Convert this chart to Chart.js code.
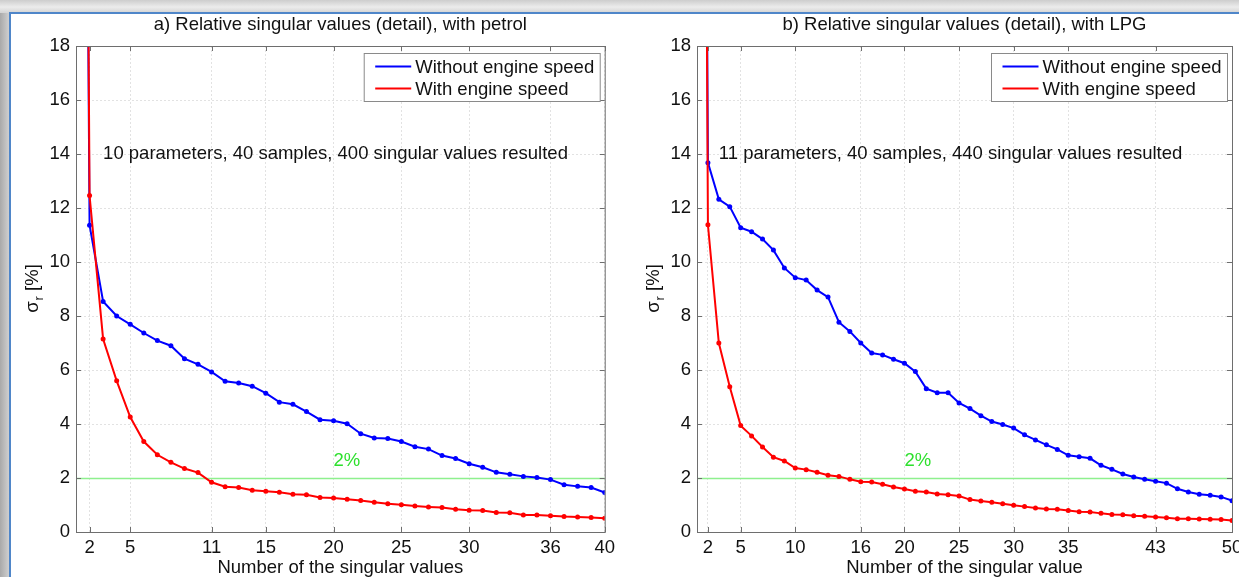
<!DOCTYPE html>
<html>
<head>
<meta charset="utf-8">
<script src="https://cdn.jsdelivr.net/npm/chart.js@4.4.0/dist/chart.umd.min.js"></script>
<style>
  html, body { margin: 0; padding: 0; }
  body {
    width: 1239px; height: 577px; overflow: hidden; position: relative;
    background: linear-gradient(to right, #a9a9a9, #cfcfcf 9px, #d6d6d6);
  }
  #topbar { position: absolute; left: 0; top: 0; width: 1239px; height: 13px;
    background: linear-gradient(#cdcdcd, #ececec 7px, #d3d3d3); }
  #frame { position: absolute; left: 9px; top: 12px; width: 1240px; height: 580px;
    background: #fff; border-top: 2px solid #4f86c9; border-left: 2px solid #4f86c9; }
  canvas { position: absolute; top: 0; }
  #chartA { left: 0; }
  #chartB { left: 620px; }
</style>
</head>
<body>
<div id="topbar"></div>
<div id="frame"></div>
<canvas id="chartA" width="620" height="577"></canvas>
<canvas id="chartB" width="630" height="577"></canvas>
<script>
// a) petrol, singular value number 1..40 (first value is off the scale)
var withoutSpeedA = [85, 11.36, 8.54, 8.0, 7.69, 7.37, 7.09, 6.9, 6.42, 6.21, 5.93, 5.58, 5.52, 5.4, 5.14,
  4.81, 4.73, 4.46, 4.16, 4.12, 4.01, 3.64, 3.48, 3.46, 3.35, 3.16, 3.07, 2.83, 2.72, 2.53,
  2.40, 2.21, 2.14, 2.06, 2.02, 1.94, 1.75, 1.69, 1.65, 1.46];
var withSpeedA = [90, 12.46, 7.15, 5.6, 4.26, 3.35, 2.86, 2.58, 2.35, 2.20, 1.84, 1.68, 1.65, 1.55, 1.51,
  1.47, 1.40, 1.38, 1.28, 1.26, 1.21, 1.17, 1.10, 1.05, 1.01, 0.96, 0.93, 0.91, 0.84, 0.81,
  0.80, 0.72, 0.71, 0.63, 0.63, 0.60, 0.57, 0.56, 0.54, 0.51];

// b) LPG, singular value number 1..50
var withoutSpeedB = [85, 13.68, 12.32, 12.05, 11.27, 11.12, 10.85, 10.44, 9.78, 9.42, 9.33, 8.96, 8.70,
  7.77, 7.43, 7.0, 6.63, 6.56, 6.40, 6.25, 5.94, 5.31, 5.16, 5.16, 4.78, 4.57, 4.31, 4.09,
  3.98, 3.85, 3.60, 3.41, 3.23, 3.06, 2.84, 2.79, 2.73, 2.47, 2.32, 2.15, 2.04, 1.95, 1.88,
  1.81, 1.60, 1.48, 1.40, 1.36, 1.30, 1.16];
var withSpeedB = [90, 11.38, 7.0, 5.38, 3.94, 3.56, 3.15, 2.77, 2.63, 2.37, 2.31, 2.21, 2.10, 2.06,
  1.95, 1.86, 1.85, 1.77, 1.67, 1.59, 1.51, 1.48, 1.41, 1.38, 1.33, 1.20, 1.15, 1.10, 1.05,
  0.99, 0.94, 0.89, 0.85, 0.84, 0.80, 0.75, 0.74, 0.69, 0.65, 0.64, 0.60, 0.58, 0.56, 0.53,
  0.49, 0.49, 0.48, 0.47, 0.46, 0.43];

var xTicksA = [2, 5, 11, 15, 20, 25, 30, 36, 40];
var xTicksB = [2, 5, 10, 16, 20, 25, 30, 35, 43, 50];
var yTicks = [0, 2, 4, 6, 8, 10, 12, 14, 16, 18];
var seriesNames = ['Without engine speed', 'With engine speed'];
var limit = 2;

var FONT = '"Liberation Sans", Arial, sans-serif';
var FS = 18.5;
Chart.defaults.font.family = FONT;
Chart.defaults.color = '#111';

function toPoints(arr) {
  return arr.map(function (v, i) { return { x: i + 1, y: v }; });
}

var decor = {
  id: 'decor',
  beforeDatasetsDraw: function (chart, args, o) {
    var ctx = chart.ctx, a = chart.chartArea, y = chart.scales.y;
    var py = Math.round(y.getPixelForValue(limit)) + 0.5;
    ctx.save();
    ctx.strokeStyle = '#8ef08e';
    ctx.lineWidth = 1.5;
    ctx.beginPath(); ctx.moveTo(a.left, py); ctx.lineTo(a.right, py); ctx.stroke();
    ctx.restore();
  },
  afterDatasetsDraw: function (chart, args, o) {
    var ctx = chart.ctx, a = chart.chartArea, x = chart.scales.x, y = chart.scales.y;
    ctx.save();
    // axes box with inward ticks
    ctx.strokeStyle = '#6e6e6e';
    ctx.lineWidth = 1;
    ctx.strokeRect(a.left + 0.5, a.top + 0.5, a.right - a.left, a.bottom - a.top);
    ctx.beginPath();
    o.xTicks.forEach(function (v) {
      var px = Math.round(x.getPixelForValue(v)) + 0.5;
      ctx.moveTo(px, a.bottom); ctx.lineTo(px, a.bottom - 5);
      ctx.moveTo(px, a.top); ctx.lineTo(px, a.top + 5);
    });
    yTicks.forEach(function (v) {
      var py = Math.round(y.getPixelForValue(v)) + 0.5;
      ctx.moveTo(a.left, py); ctx.lineTo(a.left + 5, py);
      ctx.moveTo(a.right, py); ctx.lineTo(a.right - 5, py);
    });
    ctx.stroke();

    // notes
    ctx.font = FS + 'px ' + FONT;
    ctx.textBaseline = 'middle';
    ctx.textAlign = 'left';
    ctx.fillStyle = '#111';
    ctx.fillText(o.note, x.getPixelForValue(3), y.getPixelForValue(14));
    ctx.fillStyle = '#2ee02e';
    ctx.fillText('2%', x.getPixelForValue(20), y.getPixelForValue(2.65));

    // legend box
    var ds = chart.data.datasets;
    var tw = 0;
    ds.forEach(function (d) { tw = Math.max(tw, ctx.measureText(d.label).width); });
    var bw = Math.round(tw + 57), bh = 48;
    var bx = a.right - 5 - bw + 0.5, by = a.top + 7 + 0.5;
    ctx.fillStyle = '#fff';
    ctx.fillRect(bx, by, bw, bh);
    ctx.strokeStyle = '#8a8a8a';
    ctx.strokeRect(bx, by, bw, bh);
    ds.forEach(function (d, i) {
      var ly = by + 13 + i * 22;
      ctx.strokeStyle = d.borderColor;
      ctx.lineWidth = 2;
      ctx.beginPath(); ctx.moveTo(bx + 11, ly); ctx.lineTo(bx + 47, ly); ctx.stroke();
      ctx.fillStyle = '#111';
      ctx.fillText(d.label, bx + 51, ly + 1);
    });
    ctx.restore();
  },
  afterDraw: function (chart, args, o) {
    var ctx = chart.ctx, a = chart.chartArea;
    var cx = (a.left + a.right) / 2;
    ctx.save();
    ctx.fillStyle = '#111';
    ctx.font = FS + 'px ' + FONT;
    ctx.textAlign = 'center';
    ctx.textBaseline = 'middle';
    ctx.fillText(o.title, cx, 25);
    ctx.fillText(o.xTitle, cx, 568);

    // y axis title: sigma_r [%]
    ctx.translate(a.left - 43, (a.top + a.bottom) / 2);
    ctx.rotate(-Math.PI / 2);
    ctx.textAlign = 'left';
    var w1 = ctx.measureText('\u03c3').width;
    ctx.font = '13px ' + FONT;
    var w2 = ctx.measureText('r').width;
    ctx.font = FS + 'px ' + FONT;
    var w3 = ctx.measureText(' [%]').width;
    var sx = -(w1 + w2 + w3) / 2;
    ctx.fillText('\u03c3', sx, 0);
    ctx.font = '13px ' + FONT;
    ctx.fillText('r', sx + w1 + 1, 6);
    ctx.font = FS + 'px ' + FONT;
    ctx.fillText(' [%]', sx + w1 + w2 + 1, 0);
    ctx.restore();
  }
};

function makeChart(id, blue, red, xTicks, xMax, yWidth, padRight, texts) {
  return new Chart(document.getElementById(id), {
    type: 'line',
    data: {
      datasets: [{
        label: seriesNames[0],
        data: toPoints(blue),
        borderColor: '#0000ff',
        backgroundColor: '#0000ff',
        borderWidth: 2,
        pointRadius: 2.5,
        pointBorderWidth: 0,
        order: 2
      }, {
        label: seriesNames[1],
        data: toPoints(red),
        borderColor: '#ff0000',
        backgroundColor: '#ff0000',
        borderWidth: 2,
        pointRadius: 2.5,
        pointBorderWidth: 0,
        order: 1
      }]
    },
    options: {
      responsive: false,
      animation: false,
      events: [],
      layout: { padding: { top: 46, right: padRight, left: 0, bottom: 0 } },
      plugins: {
        legend: { display: false },
        tooltip: { enabled: false },
        decor: texts
      },
      scales: {
        x: {
          type: 'linear',
          min: 1,
          max: xMax,
          afterBuildTicks: function (s) { s.ticks = xTicks.map(function (v) { return { value: v }; }); },
          afterFit: function (s) { s.height = 45; },
          ticks: { autoSkip: false, maxRotation: 0, font: { size: FS }, color: '#111', padding: 5 },
          grid: { color: '#e2e2e2', drawTicks: false },
          border: { display: false, dash: [2, 2] }
        },
        y: {
          min: 0,
          max: 18,
          afterBuildTicks: function (s) { s.ticks = yTicks.map(function (v) { return { value: v }; }); },
          afterFit: function (s) { s.width = yWidth; },
          ticks: { font: { size: FS }, color: '#111', padding: 6 },
          grid: { color: '#e2e2e2', drawTicks: false },
          border: { display: false, dash: [2, 2] }
        }
      }
    },
    plugins: [decor]
  });
}

makeChart('chartA', withoutSpeedA, withSpeedA, xTicksA, 40, 76, 13, {
  title: 'a) Relative singular values (detail), with petrol',
  note: '10 parameters, 40 samples, 400 singular values resulted',
  xTitle: 'Number of the singular values',
  xTicks: xTicksA
});
makeChart('chartB', withoutSpeedB, withSpeedB, xTicksB, 50, 77, 18, {
  title: 'b) Relative singular values (detail), with LPG',
  note: '11 parameters, 40 samples, 440 singular values resulted',
  xTitle: 'Number of the singular value',
  xTicks: xTicksB
});
</script>
</body>
</html>
